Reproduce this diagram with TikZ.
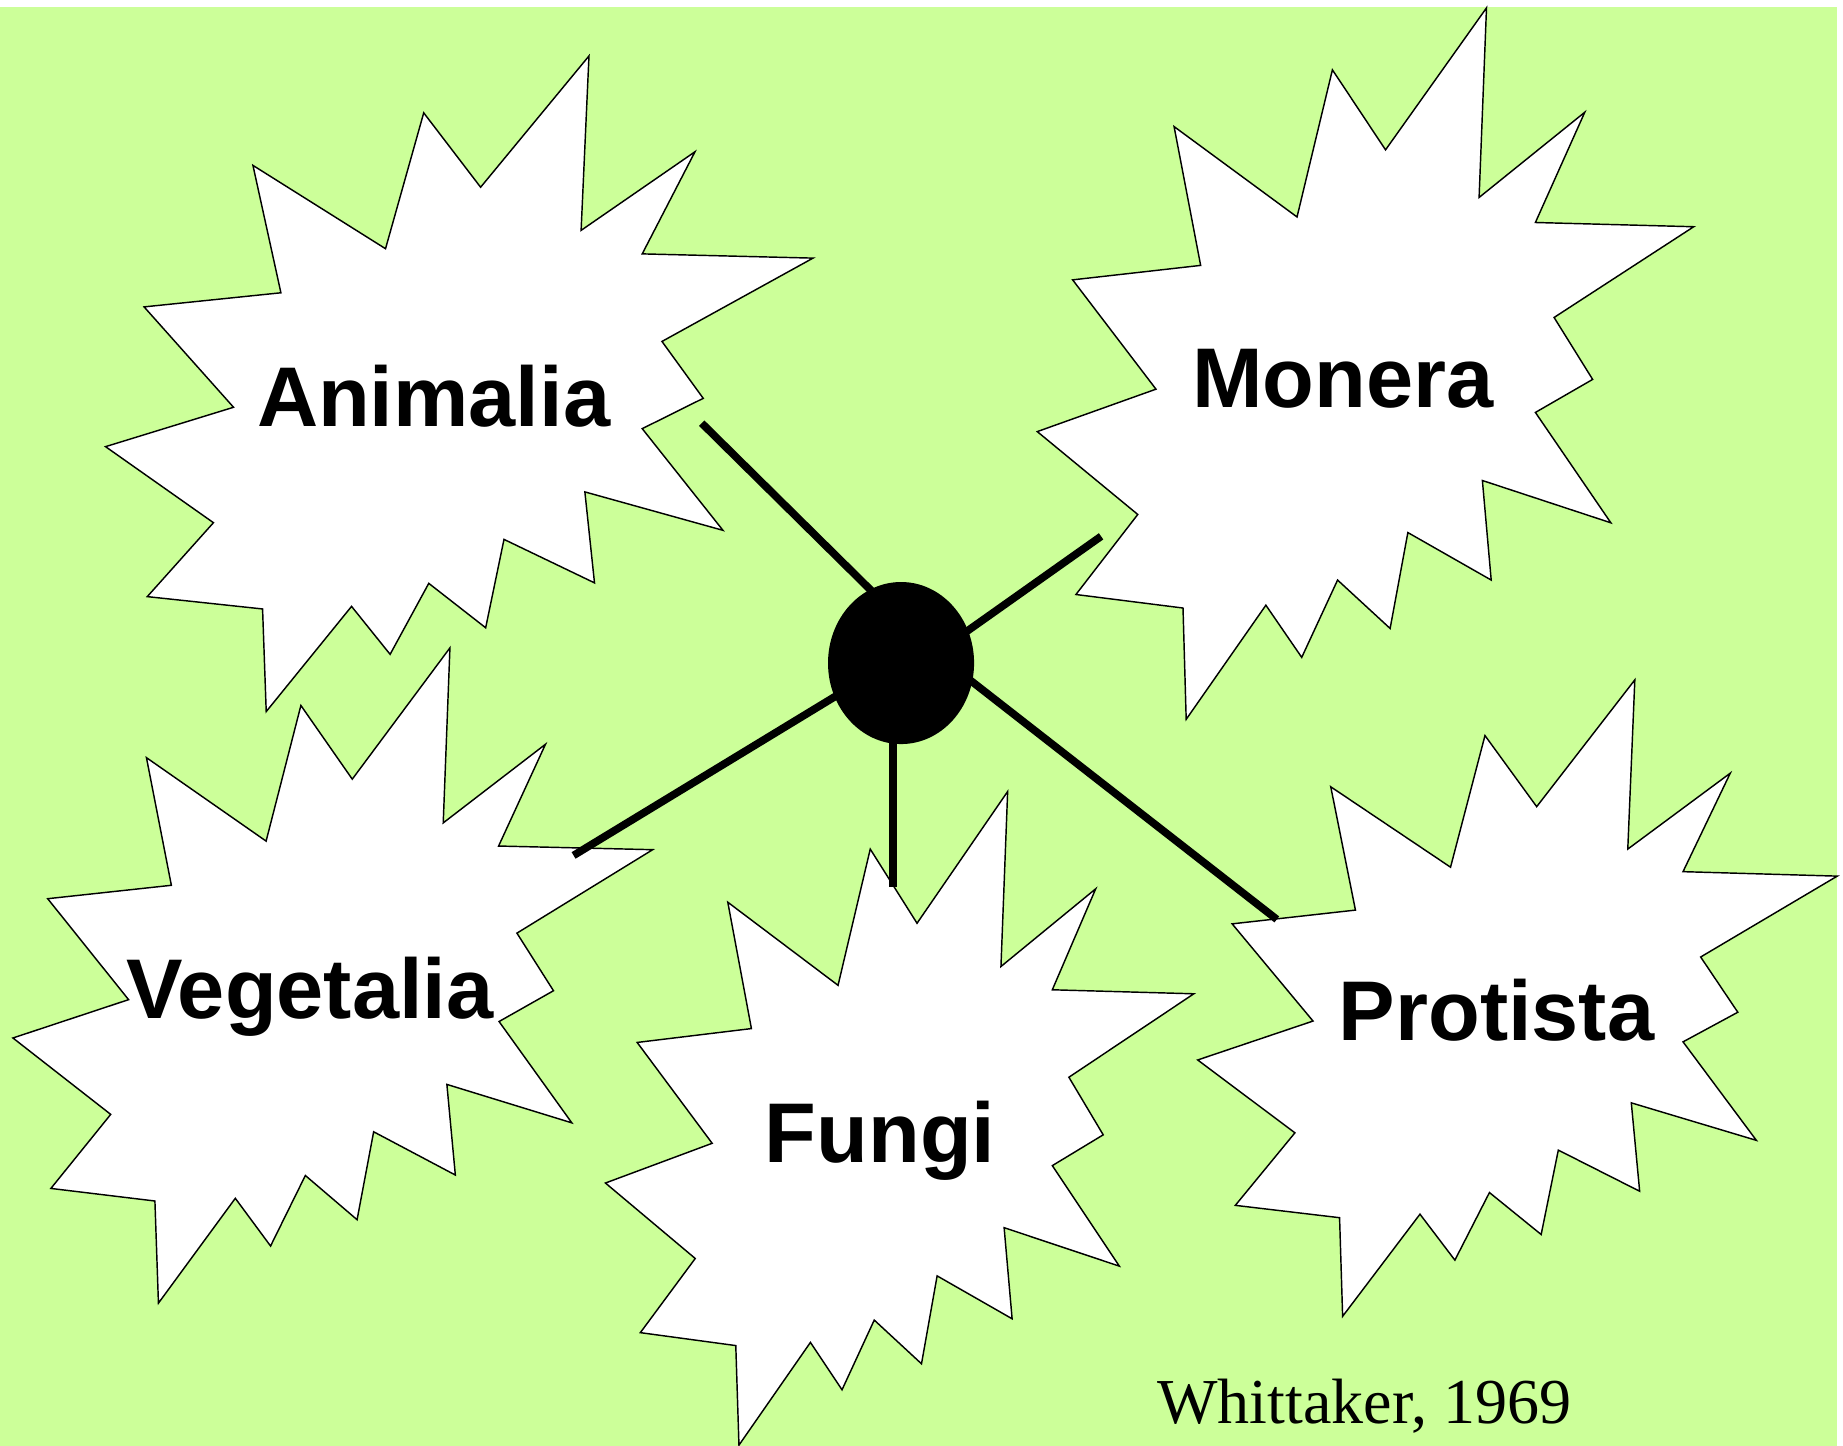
\documentclass[tikz,border=0pt]{standalone}
\usepackage{fontspec}
\setmainfont{Liberation Serif}
\setsansfont{Liberation Sans}
\usetikzlibrary{shapes.geometric}
\definecolor{bggreen}{RGB}{204,255,153}
\tikzset{
  burst/.style={draw=black, fill=white, line width=0.35pt, line join=miter},
  kingdom/.style={font=\sffamily\bfseries\fontsize{20.5}{24}\selectfont, inner sep=0pt, anchor=base},
  branch/.style={line width=1.85pt, shorten <=-4pt},
  cite/.style={font=\fontsize{15.5}{18}\selectfont, inner sep=0pt, anchor=base west}
}
\begin{document}
\begin{tikzpicture}[x=0.01cm,y=-0.01cm]
\useasboundingbox (0,0) rectangle (1568,1230);
\fill[white] (0,0) rectangle (1568,1230);
\fill[bggreen] (0,6) rectangle (1563,1230);

% Animalia burst
\draw[burst] (501.1,47.6) -- (494.4,196.0) -- (591.3,129.1) -- (546.4,216.0) -- (691.7,219.6) -- (563.2,290.5) -- (598.3,338.9) -- (546.4,364.7) -- (615.1,451.2) -- (497.6,418.5) -- (505.8,495.9) -- (428.8,458.9) -- (413.2,534.1) -- (364.8,496.3) -- (331.9,556.7) -- (299.1,515.9) -- (226.5,605.4) -- (223.4,518.1) -- (125.3,507.6) -- (181.6,444.7) -- (89.8,380.0) -- (198.7,346.5) -- (122.6,261.1) -- (239.0,249.1) -- (215.2,140.7) -- (328.0,211.6) -- (360.5,96.0) -- (408.9,159.3) -- cycle;

% Monera burst
\draw[burst] (1264.7,6.7) -- (1258.4,168.0) -- (1348.3,95.5) -- (1306.3,189.3) -- (1441.0,192.9) -- (1322.2,270.1) -- (1355.0,322.8) -- (1306.3,350.9) -- (1370.5,444.8) -- (1261.2,408.8) -- (1268.7,493.5) -- (1197.8,453.1) -- (1182.7,534.7) -- (1138.0,493.5) -- (1107.5,559.3) -- (1077.0,514.9) -- (1009.2,612.0) -- (1006.5,517.3) -- (915.4,505.8) -- (968.0,437.7) -- (882.5,367.2) -- (983.5,331.1) -- (912.6,238.1) -- (1021.5,225.8) -- (998.9,107.7) -- (1103.5,184.6) -- (1133.6,59.4) -- (1178.8,127.5) -- cycle;

% Vegetalia burst
\draw[burst] (382.8,551.2) -- (377.1,700.1) -- (464.1,633.2) -- (424.2,719.8) -- (555.3,722.9) -- (439.8,793.9) -- (470.9,842.9) -- (424.6,869.1) -- (486.5,955.3) -- (380.2,922.6) -- (387.4,999.7) -- (317.9,962.9) -- (303.8,1037.7) -- (259.8,1000.1) -- (230.2,1060.1) -- (200.2,1019.5) -- (134.8,1108.7) -- (131.8,1021.8) -- (43.3,1011.1) -- (94.2,948.1) -- (11.0,883.1) -- (109.4,850.5) -- (40.6,764.6) -- (145.8,753.2) -- (124.6,644.6) -- (226.4,715.6) -- (256.0,600.2) -- (299.7,662.9) -- cycle;

% Fungi burst
\draw[burst] (857.3,673.4) -- (851.6,822.3) -- (932.2,756.2) -- (895.3,842.1) -- (1015.7,845.5) -- (909.4,916.5) -- (938.6,965.5) -- (895.3,991.7) -- (952.3,1077.2) -- (854.3,1044.5) -- (861.1,1122.0) -- (797.3,1085.5) -- (784.0,1160.3) -- (743.8,1123.1) -- (716.4,1182.4) -- (689.5,1142.1) -- (628.7,1229.5) -- (626.0,1144.8) -- (544.8,1133.8) -- (591.5,1070.7) -- (515.1,1006.5) -- (605.9,972.7) -- (542.1,886.9) -- (639.3,875.1) -- (619.2,767.6) -- (713.0,838.3) -- (740.4,722.4) -- (780.2,785.5) -- cycle;

% Protista burst
\draw[burst] (1390.9,578.4) -- (1384.9,722.4) -- (1472.1,657.8) -- (1431.9,741.6) -- (1563.1,745.4) -- (1446.9,814.2) -- (1478.5,861.2) -- (1431.9,886.4) -- (1494.3,970.2) -- (1387.9,938.3) -- (1395.0,1013.5) -- (1325.8,978.5) -- (1311.2,1050.3) -- (1267.2,1014.6) -- (1237.8,1072.1) -- (1208.1,1033.0) -- (1142.3,1119.9) -- (1139.7,1036.0) -- (1051.0,1025.5) -- (1101.7,963.8) -- (1019.0,901.8) -- (1117.1,868.7) -- (1048.3,786.0) -- (1153.2,774.3) -- (1132.2,669.4) -- (1234.1,737.8) -- (1263.4,625.8) -- (1307.4,686.3) -- cycle;

% labels
\node[kingdom] (animalia) at (368.9,363.2) {Animalia};
\node[kingdom] (monera) at (1142.5,347.0) {Monera};
\node[kingdom] (vegetalia) at (263.6,866.4) {Vegetalia};
\node[kingdom] (fungi) at (748.7,989.1) {Fungi};
\node[kingdom] (protista) at (1273.2,884.9) {Protista};

% central dot
\node[ellipse, fill=black, inner sep=0pt, minimum width=1.242cm, minimum height=1.378cm] (dot) at (766.6,564.1) {};

% branch ends
\coordinate (eA) at (597.0,360.0);
\coordinate (eM) at (936.8,456.3);
\coordinate (eV) at (488.0,727.8);
\coordinate (eF) at (759.7,754.7);
\coordinate (eP) at (1086.3,782.2);

\draw[branch] (dot.113.5) -- (eA);
\draw[branch] (dot.26.7) -- (eM);
\draw[branch] (dot.207) -- (eV);
\draw[branch] (eF |- dot.south) -- (eF);
\draw[branch] (dot.-15) -- (eP);

\node[cite] (cite) at (984,1211) {Whittaker, 1969};
\end{tikzpicture}
\end{document}
